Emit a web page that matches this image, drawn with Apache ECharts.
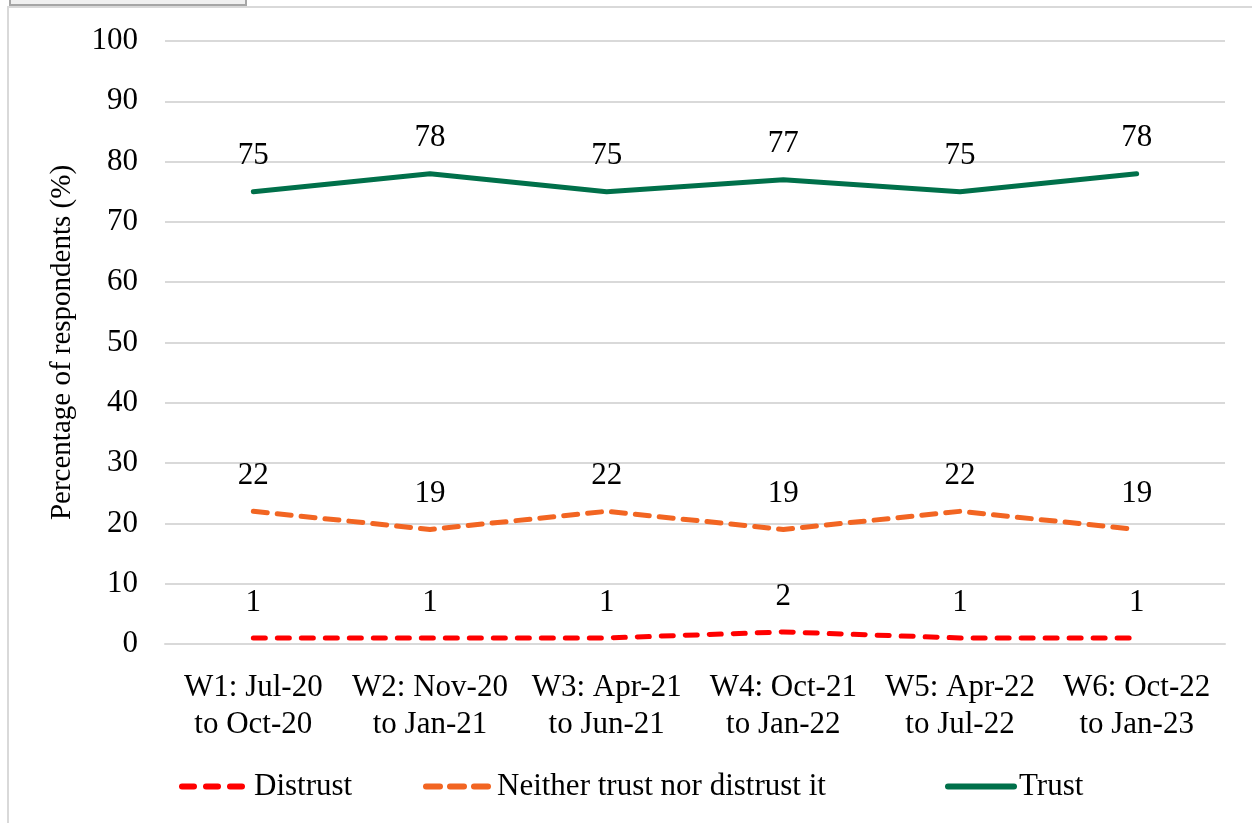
<!DOCTYPE html>
<html>
<head>
<meta charset="utf-8">
<script src="https://cdn.jsdelivr.net/npm/echarts@6/dist/echarts.min.js"></script>
<style>
  html, body { margin: 0; padding: 0; background: #fff; }
  #chart_main { width: 1252px; height: 823px; }
</style>
</head>
<body>
<div id="chart_main"></div>
<script>
// survey waves
var waves = ['W1: Jul-20\nto Oct-20', 'W2: Nov-20\nto Jan-21', 'W3: Apr-21\nto Jun-21',
             'W4: Oct-21\nto Jan-22', 'W5: Apr-22\nto Jul-22', 'W6: Oct-22\nto Jan-23'];
var distrust = [1, 1, 1, 2, 1, 1];
var neither = [22, 19, 22, 19, 22, 19];
var trust = [75, 78, 75, 77, 75, 78];

var fontFam = '"Liberation Serif", "DejaVu Serif", serif';

function lineSeries(name, data, color, dash) {
  return {
    name: name,
    type: 'line',
    data: data,
    symbol: 'circle',
    symbolSize: 0,
    lineStyle: { color: color, width: 5, type: dash, cap: 'round' },
    itemStyle: { color: color },
    label: {
      show: true,
      position: 'top',
      distance: 20,
      color: '#000',
      fontFamily: fontFam,
      fontSize: 31
    }
  };
}

function legendAt(left, name, pad) {
  return {
    left: left,
    bottom: 16,
    itemWidth: 66,
    itemHeight: 14,
    itemGap: 10,
    itemStyle: { opacity: 0 },
    lineStyle: { width: 6, cap: 'round' },
    textStyle: { color: '#000', fontFamily: fontFam, fontSize: 31, padding: [0, 0, 0, pad] },
    data: [name]
  };
}

var myChart = echarts.init(document.getElementById('chart_main'));
var option = {
  backgroundColor: '#fff',
  animation: false,
  textStyle: { fontFamily: fontFam },
  graphic: [
    // outer frame of the chart box
    { type: 'rect', shape: { x: 8, y: 7, width: 1260, height: 830 },
      style: { fill: 'none', stroke: '#d9d9d9', lineWidth: 2 } },
    // grey tab at top-left
    { type: 'rect', shape: { x: 10, y: -4, width: 236, height: 9 },
      style: { fill: '#f0f0f0', stroke: '#a6a6a6', lineWidth: 2 } }
  ],
  grid: { left: 165, right: 27, top: 41, bottom: 179 },
  legend: [
    legendAt(174, 'Distrust', 1),
    legendAt(418, 'Neither trust nor distrust it', 0),
    legendAt(940, 'Trust', 0)
  ],
  xAxis: {
    type: 'category',
    data: waves,
    axisLine: { lineStyle: { color: '#d9d9d9', width: 2 } },
    axisTick: { show: false },
    axisLabel: { color: '#000', fontFamily: fontFam, fontSize: 31, lineHeight: 37, margin: 25, interval: 0 }
  },
  yAxis: {
    type: 'value',
    min: 0,
    max: 100,
    interval: 10,
    name: 'Percentage of respondents (%)',
    nameLocation: 'middle',
    nameGap: 88,
    nameTextStyle: { color: '#000', fontFamily: fontFam, fontSize: 29 },
    axisLine: { show: false },
    axisTick: { show: false },
    axisLabel: { color: '#000', fontFamily: fontFam, fontSize: 31, margin: 27 },
    splitLine: { lineStyle: { color: '#d9d9d9', width: 2 } }
  },
  series: [
    lineSeries('Distrust', distrust, '#ff0000', [12, 12]),
    lineSeries('Neither trust nor distrust it', neither, '#f26522', [14, 10]),
    lineSeries('Trust', trust, '#00704a', 'solid')
  ]
};
myChart.setOption(option);
</script>
</body>
</html>
